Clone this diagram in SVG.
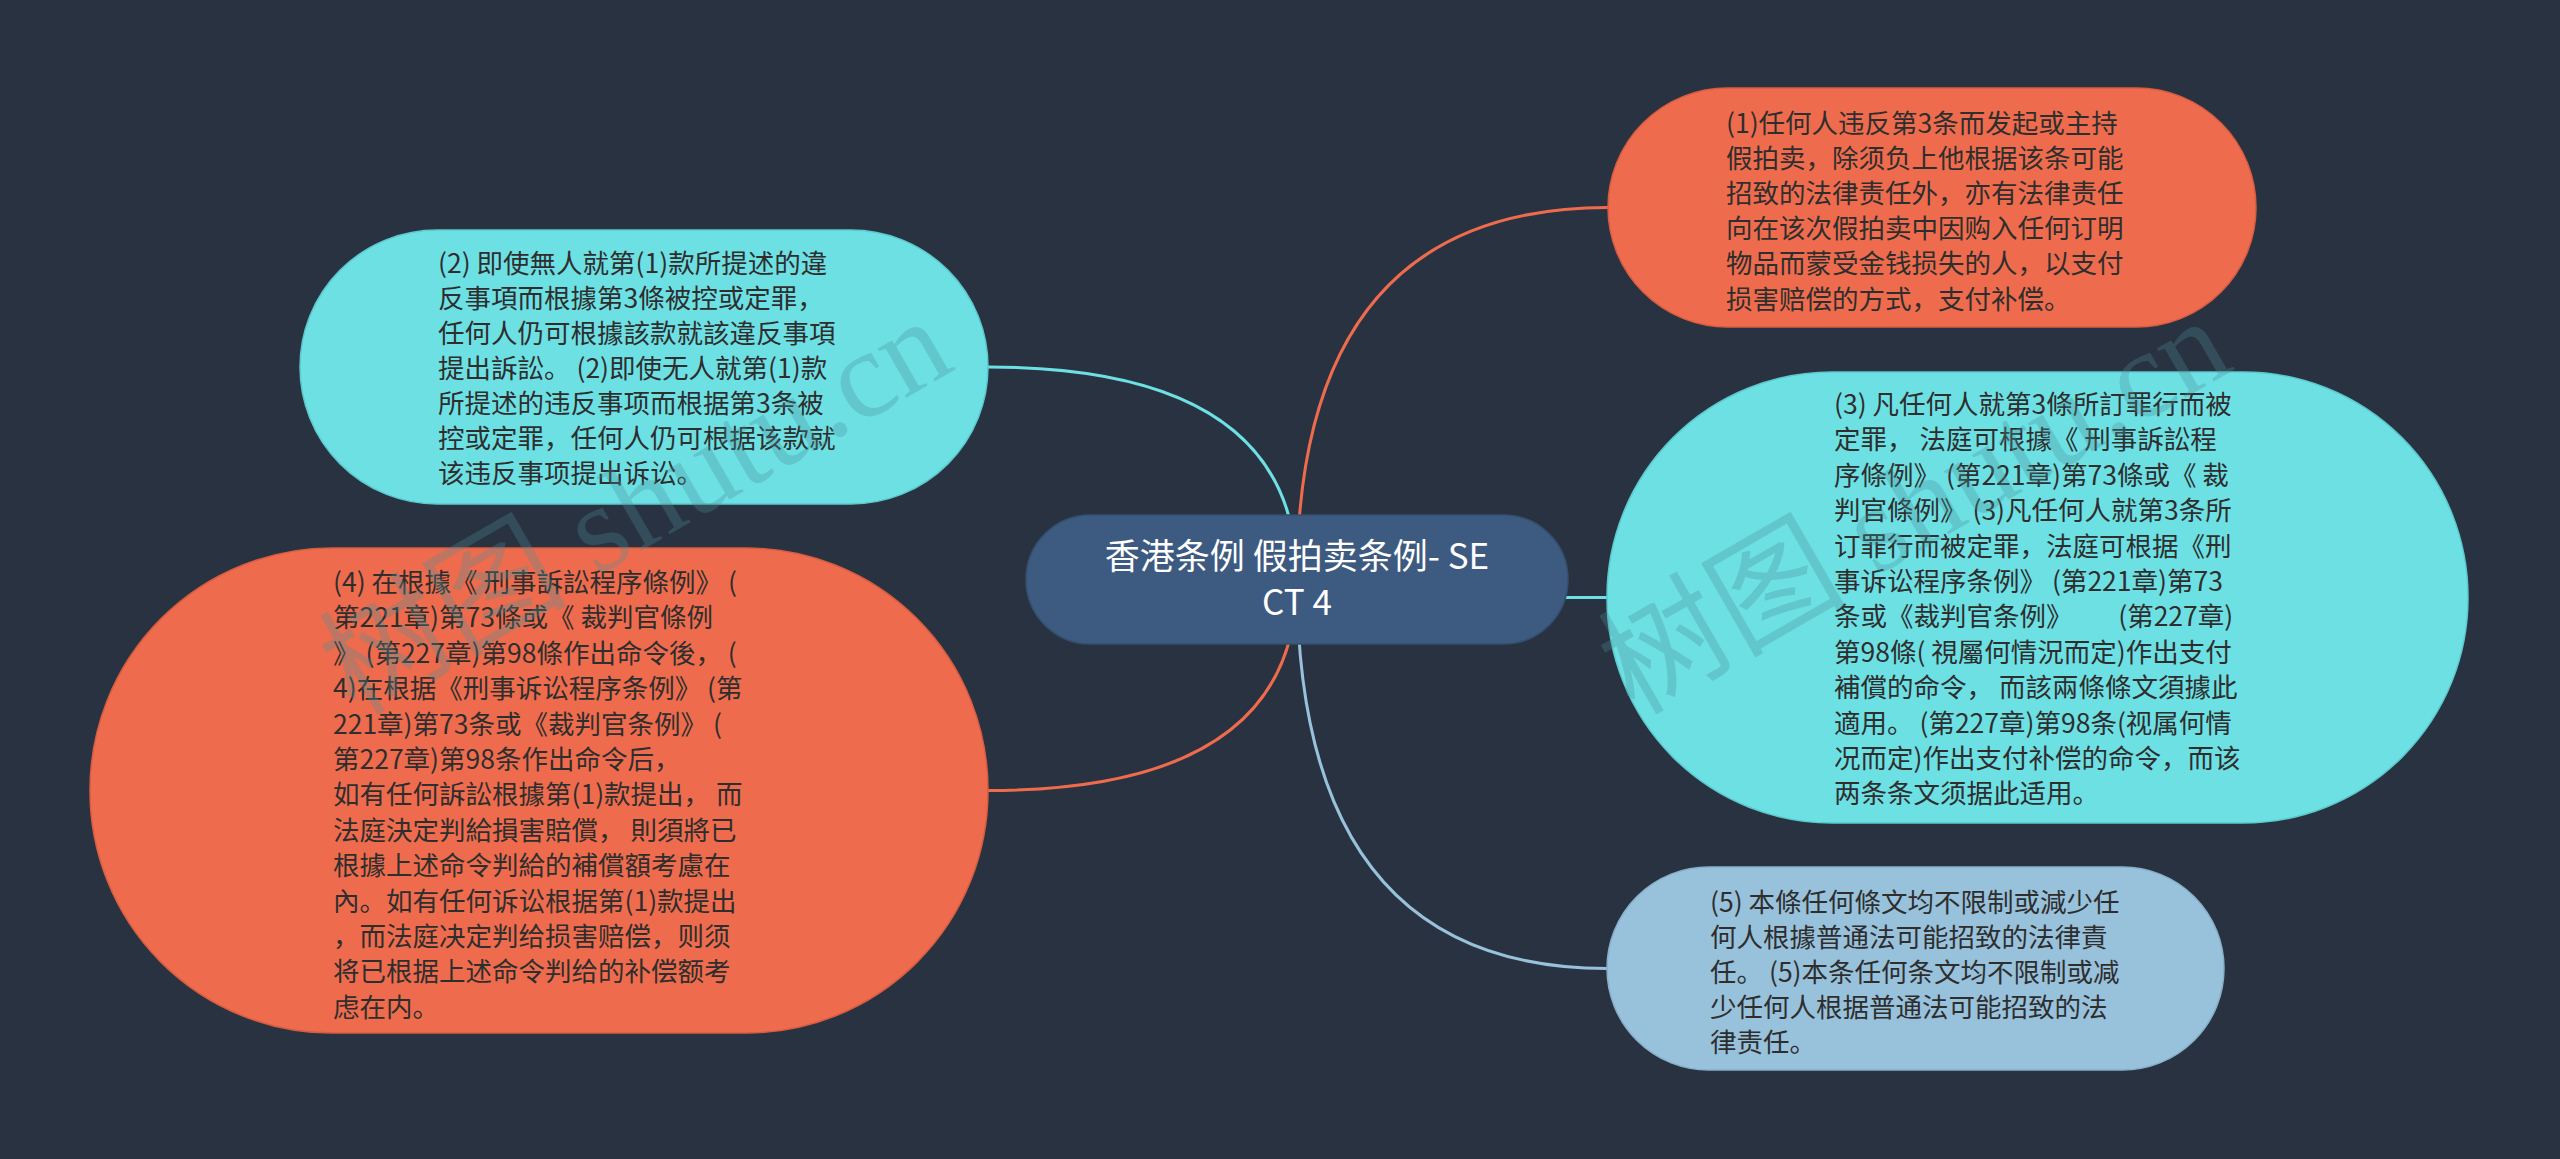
<svg xmlns="http://www.w3.org/2000/svg" width="2560" height="1159" viewBox="0 0 2560 1159">
<style>
.bg{fill:#293241}
.c{fill:none;stroke-width:3}
.t{font-family:"Microsoft YaHei","Noto Sans CJK SC","Noto Sans",sans-serif;font-size:26.5px;fill:#2e2e2e;white-space:pre}
.ct{font-family:"Microsoft YaHei","Noto Sans CJK SC","Noto Sans",sans-serif;font-size:35px;fill:#ffffff;text-anchor:middle;white-space:pre}
.or{fill:#ee6c4d;stroke:#d85d40;stroke-width:1.5}
.cy{fill:#6de0e4;stroke:#5cc9cd;stroke-width:1.5}
.bl{fill:#98c1db;stroke:#86b0ca;stroke-width:1.5}
.wm{font-family:"Liberation Serif","Noto Sans CJK SC",serif;font-size:124px;fill:#4a8f96;opacity:0.3}
</style>
<rect class="bg" x="0" y="0" width="2560" height="1159"/>
<g id="connectors">
<path class="c" stroke="#ee6c4d" d="M1297,579.5 Q1297,207.5 1608,207.5"/>
<path class="c" stroke="#6de0e4" d="M1297,579.5 Q1297,367 988,367"/>
<path class="c" stroke="#6de0e4" d="M1297,579.5 Q1297,597.5 1607,597.5"/>
<path class="c" stroke="#ee6c4d" d="M1297,579.5 Q1297,790.5 988,790.5"/>
<path class="c" stroke="#98c1db" d="M1297,579.5 Q1297,968.5 1607,968.5"/>
</g>
<g id="root">
<rect x="1026" y="515" width="542" height="129" rx="64.5" fill="#3d5a80" stroke="#34506f" stroke-width="1.5"/>
<text class="ct" x="1297" y="569">香港条例 假拍卖条例- SE</text>
<text class="ct" x="1297" y="615">CT 4</text>
</g>
<g id="node1">
<rect class="or" x="1608" y="88" width="648" height="239" rx="119.5"/>
<text class="t" x="1726" y="133"><tspan x="1726">(1)任何人违反第3条而发起或主持</tspan><tspan x="1726" dy="35.1">假拍卖，除须负上他根据该条可能</tspan><tspan x="1726" dy="35.1">招致的法律责任外，亦有法律责任</tspan><tspan x="1726" dy="35.1">向在该次假拍卖中因购入任何订明</tspan><tspan x="1726" dy="35.1">物品而蒙受金钱损失的人，以支付</tspan><tspan x="1726" dy="35.1">损害赔偿的方式，支付补偿。</tspan></text>
</g>
<g id="node2">
<rect class="cy" x="300" y="230" width="688" height="274" rx="137"/>
<text class="t" x="438" y="272.5"><tspan x="438">(2) 即使無人就第(1)款所提述的違</tspan><tspan x="438" dy="35.1">反事項而根據第3條被控或定罪，</tspan><tspan x="438" dy="35.1">任何人仍可根據該款就該違反事項</tspan><tspan x="438" dy="35.1">提出訴訟。 (2)即使无人就第(1)款</tspan><tspan x="438" dy="35.1">所提述的违反事项而根据第3条被</tspan><tspan x="438" dy="35.1">控或定罪，任何人仍可根据该款就</tspan><tspan x="438" dy="35.1">该违反事项提出诉讼。</tspan></text>
</g>
<g id="node3">
<rect class="cy" x="1607" y="372" width="861" height="451" rx="225"/>
<text class="t" x="1834" y="414"><tspan x="1834">(3) 凡任何人就第3條所訂罪行而被</tspan><tspan x="1834" dy="35.4">定罪， 法庭可根據《 刑事訴訟程</tspan><tspan x="1834" dy="35.4">序條例》 (第221章)第73條或《 裁</tspan><tspan x="1834" dy="35.4">判官條例》 (3)凡任何人就第3条所</tspan><tspan x="1834" dy="35.4">订罪行而被定罪，法庭可根据《刑</tspan><tspan x="1834" dy="35.4">事诉讼程序条例》 (第221章)第73</tspan><tspan x="1834" dy="35.4">条或《裁判官条例》　　 (第227章)</tspan><tspan x="1834" dy="35.4">第98條( 視屬何情況而定)作出支付</tspan><tspan x="1834" dy="35.4">補償的命令， 而該兩條條文須據此</tspan><tspan x="1834" dy="35.4">適用。 (第227章)第98条(视属何情</tspan><tspan x="1834" dy="35.4">况而定)作出支付补偿的命令，而该</tspan><tspan x="1834" dy="35.4">两条条文须据此适用。</tspan></text>
</g>
<g id="node4">
<rect class="or" x="90" y="548" width="898" height="485" rx="242"/>
<text class="t" x="333" y="592"><tspan x="333">(4) 在根據《 刑事訴訟程序條例》 (</tspan><tspan x="333" dy="35.4">第221章)第73條或《 裁判官條例</tspan><tspan x="333" dy="35.4">》 (第227章)第98條作出命令後， (</tspan><tspan x="333" dy="35.4">4)在根据《刑事诉讼程序条例》 (第</tspan><tspan x="333" dy="35.4">221章)第73条或《裁判官条例》 (</tspan><tspan x="333" dy="35.4">第227章)第98条作出命令后，</tspan><tspan x="333" dy="35.4">如有任何訴訟根據第(1)款提出， 而</tspan><tspan x="333" dy="35.4">法庭決定判給損害賠償， 則須將已</tspan><tspan x="333" dy="35.4">根據上述命令判給的補償額考慮在</tspan><tspan x="333" dy="35.4">內。如有任何诉讼根据第(1)款提出</tspan><tspan x="333" dy="35.4">，而法庭决定判给损害赔偿，则须</tspan><tspan x="333" dy="35.4">将已根据上述命令判给的补偿额考</tspan><tspan x="333" dy="35.4">虑在内。</tspan></text>
</g>
<g id="node5">
<rect class="bl" x="1607" y="867" width="617" height="203" rx="101.5"/>
<text class="t" x="1710" y="912"><tspan x="1710">(5) 本條任何條文均不限制或減少任</tspan><tspan x="1710" dy="35">何人根據普通法可能招致的法律責</tspan><tspan x="1710" dy="35">任。 (5)本条任何条文均不限制或减</tspan><tspan x="1710" dy="35">少任何人根据普通法可能招致的法</tspan><tspan x="1710" dy="35">律责任。</tspan></text>
</g>
<g id="watermark">
<text class="wm" transform="translate(355,716) rotate(-30)">树图 shutu.cn</text>
<text class="wm" transform="translate(1634,716) rotate(-30)">树图 shutu.cn</text>
</g>
</svg>
